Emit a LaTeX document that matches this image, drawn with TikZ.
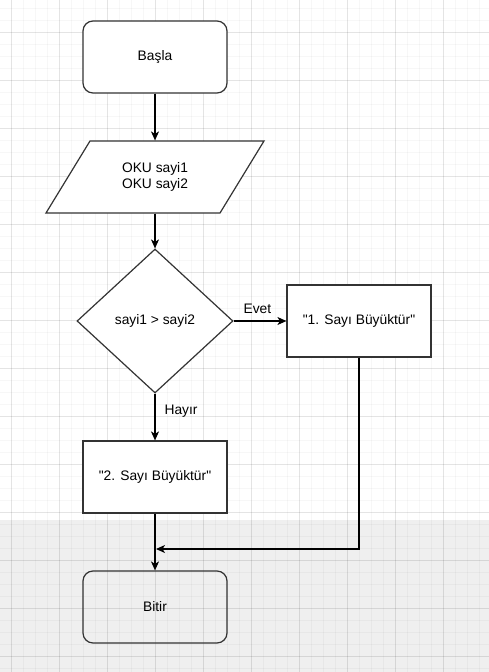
\documentclass[tikz,border=0pt]{standalone}
\usepackage{fontspec}
\setmainfont{Liberation Sans}[Ligatures=TeXOff]
\usetikzlibrary{shapes.geometric,arrows.meta}
\definecolor{band}{HTML}{EFEFEF}
\definecolor{edge}{HTML}{333333}
\tikzset{
  txt/.style={font=\fontsize{13.8}{16.5}\selectfont},
  box/.style={txt, draw=edge, line width=1.2pt, minimum width=144pt, minimum height=72pt, inner sep=0pt, align=center},
  term/.style={box, rounded corners=10pt},
  dec/.style={txt, diamond, draw=edge, line width=1.2pt, minimum width=156pt, minimum height=144pt, inner sep=0pt, aspect=1.08},
  flow/.style={line width=1.2pt, -{Stealth[length=9pt,width=8pt,inset=2.5pt]}},
  lbl/.style={txt, inner sep=0pt},
  minorgrid/.style={black, opacity=0.03, line width=0.8pt},
  majorgrid/.style={black, opacity=0.075, line width=0.9pt}
}
\begin{document}
\begin{tikzpicture}[x=1pt,y=-1pt]
\useasboundingbox (0,0) rectangle (489,672);
\fill[white] (0,0) rectangle (489,672);
\fill[band] (0,520) rectangle (489,672);
% grid
\foreach \i in {0,...,40} {
  \draw[minorgrid] ({11+12*\i-12},0) -- ({11+12*\i-12},672);
}
\foreach \j in {0,...,56} {
  \draw[minorgrid] (0,{8+12*\j}) -- (489,{8+12*\j});
}
\foreach \i in {0,...,10} {
  \draw[majorgrid] ({11+48*\i},0) -- ({11+48*\i},672);
}
\foreach \j in {0,...,13} {
  \draw[majorgrid] (0,{32+48*\j}) -- (489,{32+48*\j});
}
% nodes
\node[term, fill=white] (start) at (155,57) {\raisebox{-1pt}{Başla}};
\draw[edge, line width=1.2pt, fill=white, line join=miter] (90,141) -- (264,141) -- (220,213) -- (46,213) -- cycle;
\node[box, draw=none] (io) at (155,177) {OKU sayi1\\OKU sayi2};
\node[dec, fill=white] (cond) at (155,321) {sayi1 > sayi2};
\node[box, fill=white] (one) at (359,321) {"1. Sayı Büyüktür"};
\node[box, fill=white] (two) at (155,477) {"2. Sayı Büyüktür"};
\node[term] (end) at (155,607) {Bitir};
\coordinate (join) at (156,549);
% connectors
\draw[flow] (start) -- (io.north);
\draw[flow] (io.south) -- (cond.north);
\draw[flow] (cond.east) -- node[lbl, above, pos=0.45, yshift=7pt] {Evet} (one.west);
\draw[flow] (cond.south) -- node[lbl, right, pos=0.37, xshift=9pt] {Hayır} (two.north);
\draw[flow] (two.south) -- (end.north);
\draw[flow] (one.south) |- (join);
\end{tikzpicture}
\end{document}
